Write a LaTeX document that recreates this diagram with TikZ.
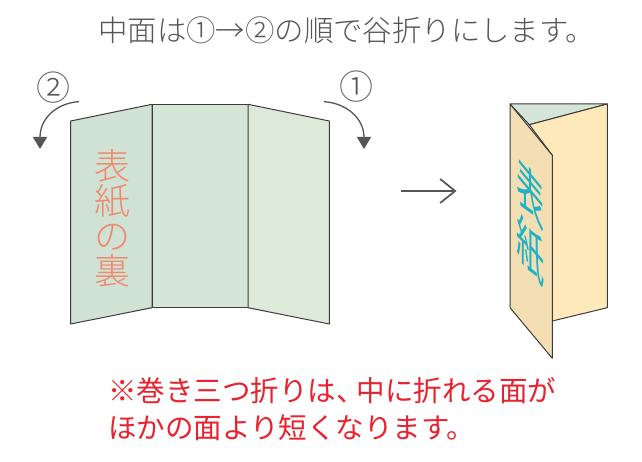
\documentclass[tikz,border=0pt]{standalone}
\usepackage{fontspec}
\usetikzlibrary{arrows.meta}
\setmainfont{Noto Sans CJK JP}
\newfontfamily\jplight{Noto Sans CJK JP Light}
\definecolor{edge}{HTML}{3C3C3C}
\definecolor{ink}{HTML}{555555}
\definecolor{panelA}{HTML}{CFE2D3}
\definecolor{panelB}{HTML}{D5E5D8}
\definecolor{panelC}{HTML}{DDEAD9}
\definecolor{coverIn}{HTML}{F4DEB3}
\definecolor{coverOut}{HTML}{FEE9BA}
\definecolor{salmon}{HTML}{F08A6E}
\definecolor{teal}{HTML}{1FB2C4}
\definecolor{note}{HTML}{E8222E}
\tikzset{
 panel/.style={draw=edge,line width=1pt,line join=round},
 foldarrow/.style={draw=ink,line width=1.3pt,-{Triangle[length=12pt,width=14pt]}},
 headline/.style={inner sep=0pt,anchor=west,text=ink,font=\jplight\fontsize{29.4}{29.4}\selectfont},
 notetext/.style={inner sep=0pt,anchor=west,text=note,font=\fontsize{28.5}{28.5}\selectfont},
 numlabel/.style={inner sep=0pt,text=ink,font=\jplight\fontsize{34}{34}\selectfont},
}
\begin{document}
\begin{tikzpicture}[x=1pt,y=-1pt]
\useasboundingbox (0,0) rectangle (642,462);
\fill[white] (0,0) rectangle (642,462);
\node[headline] (title) at (98,30) {中面は①→②の順で谷折りにします。};
% open sheet
\draw[panel,fill=panelA] (70.7,121) -- (152,104.3) -- (152,307.7) -- (70.7,324) -- cycle;
\draw[panel,fill=panelB] (152,104.3) -- (248,104.3) -- (248,307.7) -- (152,307.7) -- cycle;
\draw[panel,fill=panelC] (248,104.3) -- (329.3,121) -- (329.3,324) -- (248,307.7) -- cycle;
\node[inner sep=0pt,align=center,text=salmon,font=\jplight\fontsize{36}{35}\selectfont] (ura) at (112,218) {表\\紙\\の\\裏};
% labels and fold arrows
\node[numlabel] (two) at (53,88) {②};
\node[numlabel] (one) at (356,87) {①};
\coordinate (l0) at (79,101.7);
\coordinate (l1) at (40,149);
\coordinate (r0) at (324,101.7);
\coordinate (r1) at (364,149);
\draw[foldarrow] (l0) .. controls (57,103) and (40,118) .. (l1);
\draw[foldarrow] (r0) .. controls (346,103) and (364,118) .. (r1);
% step arrow
\coordinate (s0) at (400.7,191);
\coordinate (s1) at (456.5,191);
\draw[draw=ink,line width=1.7pt,-{Straight Barb[length=15pt,width=24pt]}] (s0) -- (s1);
% folded sheet
\draw[panel,fill=panelB] (510,104) -- (607.3,104) -- (529.3,124.7) -- cycle;
\draw[panel,fill=coverOut] (529.3,124.7) -- (607.3,104) -- (607.3,307.7) -- (552.3,321) -- (552.3,155.3) -- cycle;
\draw[panel,fill=coverIn] (510,104) -- (552.3,155.3) -- (552.3,358.3) -- (510,307.7) -- cycle;
\begin{scope}[shift={(531,222)}]
\node[inner sep=0pt,align=center,text=teal,transform shape,cm={0.74,-0.89,0,1.4,(0,0)},font=\fontsize{38}{40}\selectfont] (cover) at (0,0) {表\\紙};
\end{scope}
% note
\node[notetext] (n1) at (108,391) {※巻き三つ折りは、\kern-8pt 中に折れる面が};
\node[notetext] (n2) at (108,428) {ほかの面より短くなります。};
\end{tikzpicture}
\end{document}
